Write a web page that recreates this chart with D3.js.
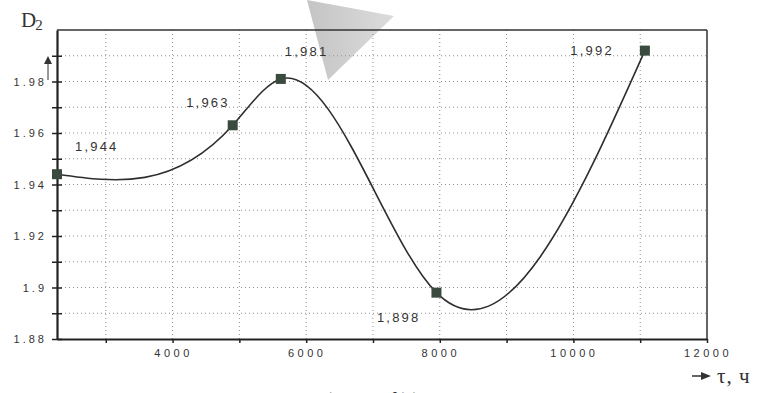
<!DOCTYPE html>
<html>
<head>
<meta charset="utf-8">
<script src="https://cdn.jsdelivr.net/npm/d3@7"></script>
<style>
  html, body { margin: 0; padding: 0; background: #fff; overflow: hidden; }
  svg { display: block; }
</style>
</head>
<body>
<div id="chart"></div>
<script>
// data
const hours = [2270, 4900, 5620, 7950, 11070];
const d2 = [1.944, 1.963, 1.981, 1.898, 1.992];
const pointLabels = ['1,944', '1,963', '1,981', '1,898', '1,992'];
const xTickValues = [4000, 6000, 8000, 10000, 12000];
const yTickValues = [1.88, 1.9, 1.92, 1.94, 1.96, 1.98];
const yTickLabels = ['1.88', '1.9', '1.92', '1.94', '1.96', '1.98'];

// where each value label sits relative to its point (dx, dy, anchor)
const labelOffsets = [
  [18, -23, 'start'],
  [-3, -18, 'end'],
  [4, -23, 'start'],
  [-16, 29, 'end'],
  [-31, 4, 'end']
];

const width = 769;
const height = 393;
const margin = { top: 30, right: 62, bottom: 54, left: 57 };

// natural cubic spline with x as the parameter (a curve for d3.line)
function NaturalX(context) {
  this._context = context;
}
NaturalX.prototype = {
  areaStart() {},
  areaEnd() {},
  lineStart() {
    this._x = [];
    this._y = [];
  },
  point(x, y) {
    this._x.push(+x);
    this._y.push(+y);
  },
  lineEnd() {
    const xs = this._x, ys = this._y, n = xs.length;
    const ctx = this._context;
    if (!n) return;
    ctx.moveTo(xs[0], ys[0]);
    if (n === 2) ctx.lineTo(xs[1], ys[1]);
    if (n > 2) {
      const h = [], s = [];
      for (let i = 0; i < n - 1; i += 1) {
        h.push(xs[i + 1] - xs[i]);
        s.push((ys[i + 1] - ys[i]) / h[i]);
      }
      // tridiagonal solve for second derivatives, natural ends
      const M = new Array(n).fill(0);
      const cp = new Array(n).fill(0);
      const dp = new Array(n).fill(0);
      for (let i = 1; i < n - 1; i += 1) {
        const a = h[i - 1], b = 2 * (h[i - 1] + h[i]), c = h[i];
        const r = 6 * (s[i] - s[i - 1]);
        const m = b - a * cp[i - 1];
        cp[i] = c / m;
        dp[i] = (r - a * dp[i - 1]) / m;
      }
      for (let i = n - 2; i >= 1; i -= 1) {
        M[i] = dp[i] - cp[i] * M[i + 1];
      }
      for (let i = 0; i < n - 1; i += 1) {
        const d0 = s[i] - h[i] * (2 * M[i] + M[i + 1]) / 6;
        const d1 = s[i] + h[i] * (M[i] + 2 * M[i + 1]) / 6;
        ctx.bezierCurveTo(
          xs[i] + h[i] / 3, ys[i] + h[i] * d0 / 3,
          xs[i + 1] - h[i] / 3, ys[i + 1] - h[i] * d1 / 3,
          xs[i + 1], ys[i + 1]
        );
      }
    }
  }
};
const curveNaturalX = context => new NaturalX(context);

const svg = d3.select('#chart')
  .append('svg')
  .attr('width', width)
  .attr('height', height);

const x = d3.scaleLinear()
  .domain([2270, 12000])
  .range([margin.left, width - margin.right]);

const y = d3.scaleLinear()
  .domain([1.88, 2.0])
  .range([height - margin.bottom, margin.top]);

const x0 = x.range()[0], x1 = x.range()[1];
const y0 = y.range()[0], y1 = y.range()[1];

// faint grey triangle from the scan
const defs = svg.append('defs');
const grad = defs.append('linearGradient')
  .attr('id', 'scan')
  .attr('x1', 0).attr('y1', 0).attr('x2', 1).attr('y2', 0);
grad.append('stop').attr('offset', 0).attr('stop-color', '#c4c4c4');
grad.append('stop').attr('offset', 1).attr('stop-color', '#dcdcdc');
svg.append('path')
  .attr('d', 'M307,0 L394,16 L328,80 Z')
  .attr('fill', 'url(#scan)');

// dotted grid
const grid = svg.append('g')
  .attr('stroke', '#909090')
  .attr('stroke-width', 1)
  .attr('stroke-dasharray', '1,3');

grid.selectAll('line.v')
  .data(d3.range(3000, 12000, 1000))
  .join('line')
  .attr('class', 'v')
  .attr('x1', d => x(d)).attr('x2', d => x(d))
  .attr('y1', y1).attr('y2', y0);

grid.selectAll('line.h')
  .data(d3.range(1, 12).map(i => 1.88 + i * 0.01))
  .join('line')
  .attr('class', 'h')
  .attr('x1', x0).attr('x2', x1)
  .attr('y1', d => y(d)).attr('y2', d => y(d));

// frame
svg.append('line')
  .attr('x1', x0).attr('x2', x1).attr('y1', y1).attr('y2', y1)
  .attr('stroke', '#333').attr('stroke-width', 1.5);
svg.append('line')
  .attr('x1', x1).attr('x2', x1).attr('y1', y1).attr('y2', y0)
  .attr('stroke', '#333').attr('stroke-width', 1.5);

// x axis
const xAxis = svg.append('g')
  .attr('transform', `translate(0,${y0})`)
  .call(d3.axisBottom(x)
    .tickValues(d3.range(3000, 13000, 1000))
    .tickSizeInner(4)
    .tickSizeOuter(0)
    .tickFormat(''));
xAxis.select('.domain').attr('stroke', '#222').attr('stroke-width', 2.2);
xAxis.selectAll('.tick line').attr('stroke', '#222').attr('stroke-width', 1.5);

svg.append('g')
  .selectAll('text')
  .data(xTickValues)
  .join('text')
  .attr('x', d => x(d) + 1)
  .attr('y', y0 + 18)
  .attr('text-anchor', 'middle')
  .attr('font-family', 'Liberation Sans, Arial, sans-serif')
  .attr('font-size', 11)
  .attr('letter-spacing', 3.5)
  .attr('fill', '#333')
  .text(d => d);

// y axis
const yAxis = svg.append('g')
  .attr('transform', `translate(${x0},0)`)
  .call(d3.axisLeft(y)
    .tickValues(d3.range(0, 12).map(i => 1.88 + i * 0.01))
    .tickSizeInner(5)
    .tickSizeOuter(0)
    .tickFormat(''));
yAxis.select('.domain').attr('stroke', '#222').attr('stroke-width', 2.2);
yAxis.selectAll('.tick line')
  .attr('x1', -5).attr('x2', 5)
  .attr('stroke', '#222').attr('stroke-width', 1.5);

svg.append('g')
  .selectAll('text')
  .data(yTickValues)
  .join('text')
  .attr('x', x0 - 10)
  .attr('y', d => y(d) + 4)
  .attr('text-anchor', 'end')
  .attr('font-family', 'Liberation Sans, Arial, sans-serif')
  .attr('font-size', 11)
  .attr('letter-spacing', 3)
  .attr('fill', '#333')
  .text((d, i) => yTickLabels[i]);

// little up arrow beside the y axis
svg.append('line')
  .attr('x1', 48).attr('x2', 48).attr('y1', 80).attr('y2', 62)
  .attr('stroke', '#333').attr('stroke-width', 1);
svg.append('path')
  .attr('d', 'M44,64 L48,56 L52,64 Z')
  .attr('fill', '#333');

// axis titles
svg.append('text')
  .attr('x', 21).attr('y', 27)
  .attr('font-family', 'Liberation Serif, Times New Roman, serif')
  .attr('font-size', 21)
  .attr('fill', '#333')
  .text('D')
  .append('tspan')
  .attr('dx', -1).attr('dy', 3)
  .attr('font-size', 15)
  .text('2');

svg.append('line')
  .attr('x1', 692).attr('x2', 703).attr('y1', 376).attr('y2', 376)
  .attr('stroke', '#333').attr('stroke-width', 1.5);
svg.append('path')
  .attr('d', 'M701,372 L711,376 L701,380 Z')
  .attr('fill', '#333');
svg.append('text')
  .attr('x', 717).attr('y', 383)
  .attr('font-family', 'Liberation Serif, Times New Roman, serif')
  .attr('font-size', 21)
  .attr('letter-spacing', 1)
  .attr('fill', '#333')
  .text('τ, ч');

// caption, cut off by the bottom edge
svg.append('text')
  .attr('x', 370).attr('y', 407)
  .attr('text-anchor', 'middle')
  .attr('font-family', 'Liberation Serif, Times New Roman, serif')
  .attr('font-size', 22)
  .attr('fill', '#333')
  .text('а) D₂ = f(τ)');

// smoothed curve
const points = hours.map((h, i) => [h, d2[i]]);
const line = d3.line()
  .x(d => x(d[0]))
  .y(d => y(d[1]))
  .curve(curveNaturalX);

svg.append('path')
  .datum(points)
  .attr('d', line)
  .attr('fill', 'none')
  .attr('stroke', '#2e2e2e')
  .attr('stroke-width', 1.6);

// square markers
svg.append('g')
  .selectAll('rect')
  .data(points)
  .join('rect')
  .attr('x', d => x(d[0]) - 5)
  .attr('y', d => y(d[1]) - 5)
  .attr('width', 10)
  .attr('height', 10)
  .attr('fill', '#3b4a3e');

// value labels
svg.append('g')
  .selectAll('text')
  .data(points)
  .join('text')
  .attr('x', (d, i) => x(d[0]) + labelOffsets[i][0])
  .attr('y', (d, i) => y(d[1]) + labelOffsets[i][1])
  .attr('text-anchor', (d, i) => labelOffsets[i][2])
  .attr('font-family', 'Liberation Sans, Arial, sans-serif')
  .attr('font-size', 13)
  .attr('letter-spacing', 2.2)
  .attr('fill', '#333')
  .text((d, i) => pointLabels[i]);
</script>
</body>
</html>
